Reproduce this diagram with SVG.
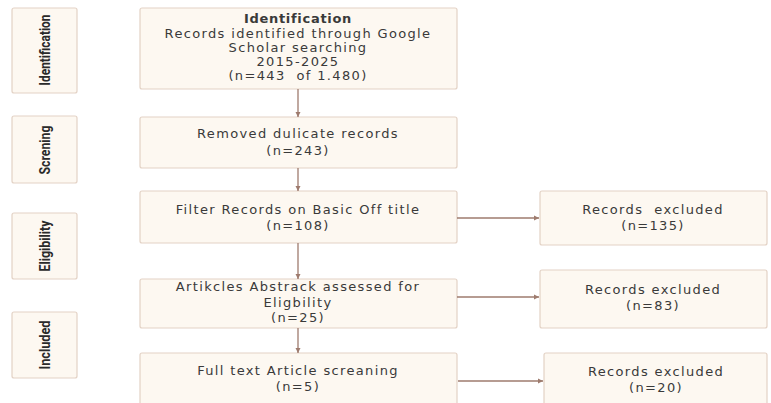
<svg xmlns="http://www.w3.org/2000/svg" width="771" height="403" viewBox="0 0 771 403">
<style>
.box{fill:#fdf8f1;stroke:#e3d2c5;stroke-width:1.2}
.t{font-family:"DejaVu Sans","Noto Sans",sans-serif;font-size:13px;fill:#3a3a3a;text-anchor:middle;letter-spacing:1.35px;white-space:pre}
.b{font-weight:bold;letter-spacing:0.7px}
.side{font-family:Roboto,"Liberation Sans",sans-serif;font-size:14.5px;font-weight:bold;fill:#2a2a2a;text-anchor:middle}
.c{stroke:#9e7b6e;stroke-width:1.3;fill:none;marker-end:url(#ah)}
</style>
<defs>
<marker id="ah" markerWidth="6" markerHeight="6" refX="5" refY="3" orient="auto" markerUnits="userSpaceOnUse">
<path d="M0,0.5 L5,3 L0,5.5 z" fill="#9e7b6e"/>
</marker>
</defs>
<rect width="771" height="403" fill="#ffffff"/>
<g id="side-identification"><rect class="box" x="12" y="8" width="65" height="85" rx="2"/><text class="side" transform="translate(50,50) rotate(-90)" textLength="71" lengthAdjust="spacingAndGlyphs">Identification</text></g>
<g id="side-screning"><rect class="box" x="12" y="116" width="65" height="67" rx="2"/><text class="side" transform="translate(50,150) rotate(-90)" textLength="49" lengthAdjust="spacingAndGlyphs">Screning</text></g>
<g id="side-eligibility"><rect class="box" x="12" y="213" width="65" height="66" rx="2"/><text class="side" transform="translate(50,246) rotate(-90)" textLength="51" lengthAdjust="spacingAndGlyphs">Eligibility</text></g>
<g id="side-included"><rect class="box" x="12" y="312" width="65" height="66" rx="2"/><text class="side" transform="translate(50,345) rotate(-90)" textLength="49" lengthAdjust="spacingAndGlyphs">Included</text></g>

<g id="n-identification"><rect class="box" x="140" y="8" width="317" height="81" rx="2"/>
<text class="t b" x="298" y="23">Identification</text>
<text class="t" x="298" y="37.5">Records identified through Google</text>
<text class="t" x="298" y="51.5">Scholar searching</text>
<text class="t" x="298" y="65.5">2015-2025</text>
<text class="t" x="298" y="80">(n=443  of 1.480)</text></g>
<g id="n-removed"><rect class="box" x="140" y="117" width="317" height="51" rx="2"/>
<text class="t" x="298" y="138">Removed dulicate records</text>
<text class="t" x="298" y="155">(n=243)</text></g>
<g id="n-filter"><rect class="box" x="140" y="191" width="317" height="52" rx="2"/>
<text class="t" x="298" y="214">Filter Records on Basic Off title</text>
<text class="t" x="298" y="230">(n=108)</text></g>
<g id="n-abstract"><rect class="box" x="140" y="279" width="317" height="49" rx="2"/>
<text class="t" x="298" y="291">Artikcles Abstrack assessed for</text>
<text class="t" x="298" y="306.5">Eligbility</text>
<text class="t" x="298" y="322">(n=25)</text></g>
<g id="n-fulltext"><rect class="box" x="140" y="353" width="317" height="60" rx="2"/>
<text class="t" x="298" y="375">Full text Article screaning</text>
<text class="t" x="298" y="391">(n=5)</text></g>
<g id="x1"><rect class="box" x="540" y="191" width="227" height="54" rx="2"/>
<text class="t" x="653" y="214">Records  excluded</text>
<text class="t" x="653" y="230">(n=135)</text></g>
<g id="x2"><rect class="box" x="540" y="270" width="227" height="58" rx="2"/>
<text class="t" x="653" y="294">Records excluded</text>
<text class="t" x="653" y="310">(n=83)</text></g>
<g id="x3"><rect class="box" x="544" y="353" width="223" height="60" rx="2"/>
<text class="t" x="656" y="376">Records excluded</text>
<text class="t" x="656" y="392">(n=20)</text></g>

<g id="connectors">
<path class="c" d="M298,89 V117"/>
<path class="c" d="M298,168 V191"/>
<path class="c" d="M298,243 V279"/>
<path class="c" d="M298,328 V353"/>
<path class="c" d="M457,218 H539"/>
<path class="c" d="M457,297 H539"/>
<path class="c" d="M458,381 H543"/>
</g>
</svg>
